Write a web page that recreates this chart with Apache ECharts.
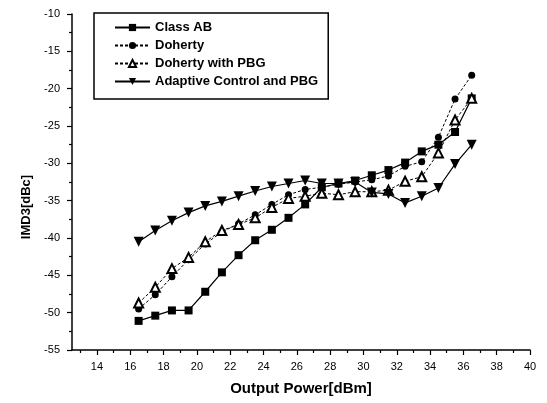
<!DOCTYPE html>
<html>
<head>
<meta charset="utf-8">
<script src="https://cdn.jsdelivr.net/npm/echarts@6/dist/echarts.min.js"></script>
<style>
  html, body { margin: 0; padding: 0; background: #fff; }
  #chart { width: 547px; height: 403px; }
</style>
</head>
<body>
<div id="chart"></div>
<script>
// output power [dBm], shared by all series
const outputPower = [16.5, 17.5, 18.5, 19.5, 20.5, 21.5, 22.5, 23.5, 24.5, 25.5, 26.5,
                     27.5, 28.5, 29.5, 30.5, 31.5, 32.5, 33.5, 34.5, 35.5, 36.5];

const classAB = [-51.1, -50.4, -49.7, -49.7, -47.2, -44.6, -42.3, -40.3, -38.9, -37.3, -35.5,
                 -33.2, -32.7, -32.3, -31.6, -30.9, -29.9, -28.4, -27.5, -25.8, -21.3];
const doherty = [-49.5, -47.6, -45.2, -42.9, -40.8, -39.2, -38.1, -36.9, -35.5, -34.2, -33.5,
                 -33.2, -32.8, -32.5, -32.2, -31.7, -30.4, -29.8, -26.5, -21.4, -18.2];
const dohertyPBG = [-48.7, -46.6, -44.1, -42.6, -40.5, -39.0, -38.2, -37.3, -35.9, -34.7, -34.4,
                    -34.0, -34.2, -33.8, -33.8, -33.6, -32.4, -31.8, -28.6, -24.2, -21.3];
const adaptivePBG = [-40.5, -39.0, -37.7, -36.6, -35.7, -35.1, -34.4, -33.7, -33.1, -32.7, -32.3,
                     -32.7, -32.7, -32.5, -33.9, -34.1, -35.3, -34.4, -33.3, -30.1, -27.5];

const seriesNames = ["Class AB", "Doherty", "Doherty with PBG", "Adaptive Control and PBG"];
const xMajorTicks = [14, 16, 18, 20, 22, 24, 26, 28, 30, 32, 34, 36, 38, 40];
const xMinorTicks = [13, 15, 17, 19, 21, 23, 25, 27, 29, 31, 33, 35, 37, 39];

const font = "'Liberation Sans', Arial, sans-serif";
const pair = (ys) => outputPower.map((x, i) => [x, ys[i]]);

const chart = echarts.init(document.getElementById("chart"));

const axisLine = { show: true, onZero: false, lineStyle: { color: "#000", width: 1.5 } };

const option = {
    animation: false,
    backgroundColor: "#fff",
    grid: { left: 72, right: 17, top: 14, bottom: 53 },
    legend: {
        orient: "vertical",
        left: 94,
        top: 13,
        padding: [8, 10, 11, 20],
        itemGap: 5,
        itemWidth: 35,
        itemHeight: 9,
        borderColor: "#000",
        borderWidth: 1.5,
        textStyle: { fontFamily: font, fontSize: 13, fontWeight: "bold", color: "#000" },
        data: seriesNames,
    },
    xAxis: [
        {
            type: "value",
            min: 12.5,
            max: 40,
            name: "Output Power[dBm]",
            nameLocation: "middle",
            nameGap: 31,
            nameTextStyle: { fontFamily: font, fontSize: 15, fontWeight: "bold", color: "#000" },
            axisLine,
            axisTick: { show: true, length: 5, customValues: xMajorTicks, lineStyle: { color: "#000", width: 1.2 } },
            axisLabel: { customValues: xMajorTicks, fontFamily: font, fontSize: 11, color: "#000", margin: 11 },
            splitLine: { show: false },
        },
        {
            type: "value",
            min: 12.5,
            max: 40,
            position: "bottom",
            axisLine: { show: false },
            axisTick: { show: true, length: 3, customValues: xMinorTicks, lineStyle: { color: "#000", width: 1.2 } },
            axisLabel: { show: false },
            splitLine: { show: false },
        },
    ],
    yAxis: {
        type: "value",
        min: -55,
        max: -10,
        interval: 5,
        name: "IMD3[dBc]",
        nameLocation: "middle",
        nameGap: 37,
        nameRotate: 90,
        nameTextStyle: { fontFamily: font, fontSize: 13, fontWeight: "bold", color: "#000", padding: [0, 50, 0, 0] },
        axisLine,
        axisTick: { show: true, length: 5, lineStyle: { color: "#000", width: 1.2 } },
        minorTick: { show: true, splitNumber: 2, length: 3, lineStyle: { color: "#000", width: 1.2 } },
        axisLabel: { fontFamily: font, fontSize: 11, color: "#000", margin: 12 },
        splitLine: { show: false },
    },
    series: [
        {
            name: seriesNames[0],
            type: "line",
            data: pair(classAB),
            symbol: "rect",
            symbolSize: 8,
            itemStyle: { color: "#000" },
            lineStyle: { color: "#000", width: 1.2 },
        },
        {
            name: seriesNames[1],
            type: "line",
            data: pair(doherty),
            symbol: "circle",
            symbolSize: 7,
            itemStyle: { color: "#000" },
            lineStyle: { color: "#000", width: 1, type: [3, 2] },
        },
        {
            name: seriesNames[2],
            type: "line",
            data: pair(dohertyPBG),
            symbol: "emptyTriangle",
            symbolSize: 9,
            itemStyle: { color: "#000", borderWidth: 1 },
            lineStyle: { color: "#000", width: 1, type: [3, 2] },
        },
        {
            name: seriesNames[3],
            type: "line",
            data: pair(adaptivePBG),
            symbol: "triangle",
            symbolRotate: 180,
            symbolSize: 10,
            itemStyle: { color: "#000" },
            lineStyle: { color: "#000", width: 1.2 },
        },
    ],
};

chart.setOption(option);
</script>
</body>
</html>
